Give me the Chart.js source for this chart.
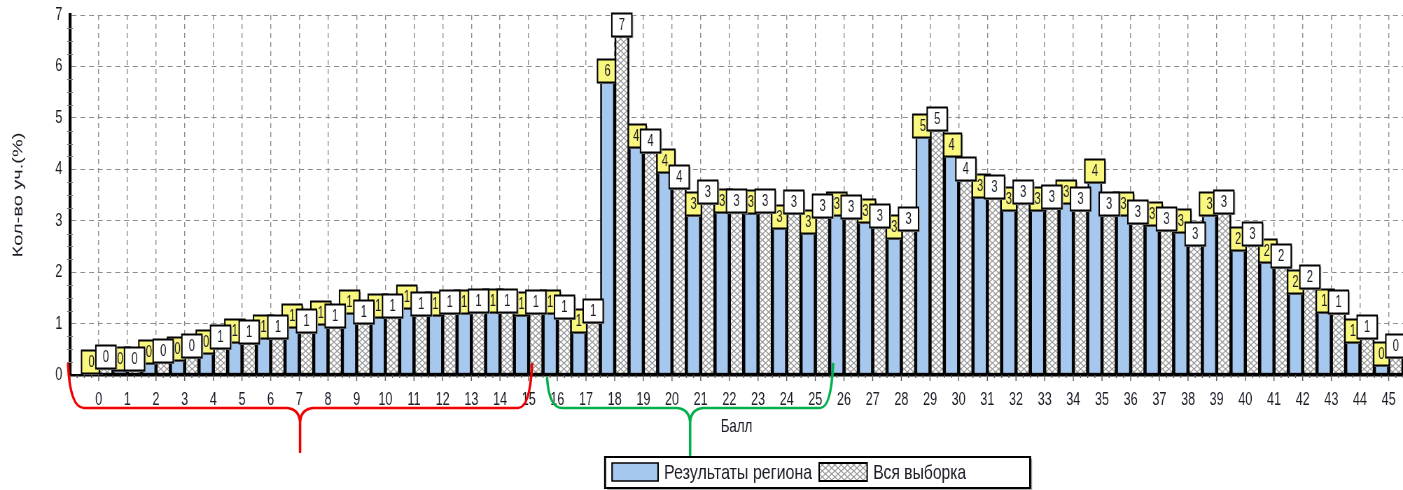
<!DOCTYPE html>
<html>
<head>
<meta charset="utf-8">
<script src="https://cdn.jsdelivr.net/npm/chart.js@4.4.1/dist/chart.umd.min.js"></script>
<style>
  html, body { margin: 0; padding: 0; background: #fff; overflow: hidden; }
  #chart { display: block; }
</style>
</head>
<body>
<!-- the original picture is horizontally condensed: draw wide, show narrow -->
<canvas id="chart" width="2004" height="490" style="width:1403px;height:490px"></canvas>
<script>
"use strict";

/* ── Data ─────────────────────────────────────────────── */
const SCORES = [0, 1, 2, 3, 4, 5, 6, 7, 8, 9, 10, 11, 12, 13, 14, 15, 16, 17, 18, 19, 20, 21, 22,
  23, 24, 25, 26, 27, 28, 29, 30, 31, 32, 33, 34, 35, 36, 37, 38, 39, 40, 41, 42, 43, 44, 45];

// "Результаты региона", % of participants
const REGION = [0.04, 0.10, 0.23, 0.29, 0.43, 0.65, 0.72, 0.94, 1.00, 1.20, 1.13, 1.30, 1.17,
  1.20, 1.23, 1.17, 1.20, 0.84, 5.70, 4.43, 3.95, 3.11, 3.17, 3.15, 2.86, 2.76, 3.11, 2.98,
  2.66, 4.63, 4.26, 3.46, 3.21, 3.21, 3.34, 3.75, 3.11, 2.92, 2.78, 3.11, 2.43, 2.20, 1.60,
  1.23, 0.65, 0.19];

// "Вся выборка", % of participants
const ALL = [0.14, 0.10, 0.25, 0.35, 0.52, 0.62, 0.72, 0.84, 0.93, 1.01, 1.13, 1.17, 1.20,
  1.23, 1.23, 1.20, 1.10, 1.03, 6.60, 4.34, 3.64, 3.34, 3.17, 3.17, 3.15, 3.07, 3.05, 2.88,
  2.82, 4.76, 3.79, 3.44, 3.34, 3.25, 3.21, 3.11, 2.96, 2.82, 2.52, 3.15, 2.53, 2.10, 1.69,
  1.20, 0.72, 0.35];

const Y_TICKS = [0, 1, 2, 3, 4, 5, 6, 7];

/* ── Styles ───────────────────────────────────────────── */
const SX = 0.7;   // horizontal squeeze of the displayed canvas
const FONT = '"Liberation Sans", Arial, sans-serif';
const BLUE = '#A6C8EE';
const YELLOW = '#FAF77E';
const TEXT = '#1c1c28';
const GRID = '#8c8c8c';

function hatchPattern() {
  const c = document.createElement('canvas');
  c.width = 9; c.height = 6;
  const g = c.getContext('2d');
  g.fillStyle = '#fff';
  g.fillRect(0, 0, 9, 6);
  g.strokeStyle = '#9a9a9a';
  g.lineWidth = 1.2;
  g.beginPath();
  g.moveTo(0, 0); g.lineTo(9, 6);
  g.moveTo(9, 0); g.lineTo(0, 6);
  g.stroke();
  return g.createPattern(c, 'repeat');
}
const HATCH = hatchPattern();

/** Draw text squeezed/stretched to a given width. */
function fitText(ctx, text, x, y, width, font) {
  ctx.font = font;
  const k = width / ctx.measureText(text).width;
  ctx.save();
  ctx.translate(x, y);
  ctx.scale(k, 1);
  ctx.fillText(text, 0, 0);
  ctx.restore();
}

/* ── Plugins ──────────────────────────────────────────── */
/** Value boxes above bars: yellow for region, white for the whole sample. */
const valueBoxes = {
  id: 'valueBoxes',
  afterDatasetsDraw(chart) {
    const ctx = chart.ctx;
    const w = 20 / SX, h = 23;
    const drawBoxes = (di, fill) => {
      const vals = chart.data.datasets[di].data;
      chart.getDatasetMeta(di).data.forEach((bar, i) => {
        const x = bar.x - w / 2;
        const y = Math.round(bar.y - h) + 0.5;
        ctx.fillStyle = '#a0a0a0';
        ctx.fillRect(x + 2, y + 1.5, w, h);
        ctx.fillStyle = fill;
        ctx.fillRect(x, y, w, h);
        ctx.strokeStyle = '#000';
        ctx.lineWidth = 2;
        ctx.strokeRect(x, y, w, h);
        ctx.fillStyle = TEXT;
        ctx.font = '16px ' + FONT;
        ctx.textAlign = 'center';
        ctx.textBaseline = 'middle';
        ctx.fillText(String(Math.round(vals[i])), x + w / 2, y + h / 2 + 1);
      });
    };
    ctx.save();
    drawBoxes(0, YELLOW);
    chart.getDatasetMeta(1).data.forEach(b => b.draw(ctx));
    drawBoxes(1, '#fff');
    ctx.restore();
  }
};

/** Tick marks, braces and the boxed legend. */
const decorations = {
  id: 'decorations',
  afterDraw(chart) {
    const { ctx } = chart;
    const xs = chart.scales.x, ys = chart.scales.y;
    const ds = chart.data.datasets;
    ctx.save();

    // tick marks on the x axis
    ctx.strokeStyle = '#555';
    ctx.lineWidth = 1.4;
    ctx.beginPath();
    for (let v = -1; v <= 45.5; v += 0.25) {
      const px = xs.getPixelForValue(v);
      const len = Number.isInteger(v) ? 6 : 3;
      ctx.moveTo(px, ys.bottom);
      ctx.lineTo(px, ys.bottom + len);
    }
    ctx.stroke();
    // minor marks on the y axis
    ctx.strokeStyle = '#777';
    ctx.lineWidth = 1;
    ctx.beginPath();
    for (let v = 0.25; v < 7; v += 0.25) {
      if (Number.isInteger(v)) continue;
      const py = Math.round(ys.getPixelForValue(v)) + 0.5;
      ctx.moveTo(xs.left - 4, py);
      ctx.lineTo(xs.left + 4, py);
    }
    ctx.stroke();

    // everything below is laid out in displayed (reference) pixels
    ctx.save();
    ctx.scale(1 / SX, 1);

    // red brace
    ctx.lineWidth = 2.5;
    ctx.lineCap = 'round';
    ctx.strokeStyle = '#F00000';
    ctx.beginPath();
    ctx.moveTo(68, 364);
    ctx.quadraticCurveTo(70, 408, 84, 408);
    ctx.lineTo(287, 408);
    ctx.quadraticCurveTo(299, 409, 300, 422);
    ctx.lineTo(300, 452);
    ctx.moveTo(300, 422);
    ctx.quadraticCurveTo(301, 409, 313, 408);
    ctx.lineTo(518, 408);
    ctx.quadraticCurveTo(530, 408, 532, 364);
    ctx.stroke();

    // green brace
    ctx.strokeStyle = '#00B04C';
    ctx.beginPath();
    ctx.moveTo(547, 378);
    ctx.quadraticCurveTo(549, 408, 562, 408);
    ctx.lineTo(677, 408);
    ctx.quadraticCurveTo(689, 409, 690, 422);
    ctx.lineTo(690, 455);
    ctx.moveTo(690, 422);
    ctx.quadraticCurveTo(691, 409, 703, 408);
    ctx.lineTo(820, 408);
    ctx.quadraticCurveTo(831, 408, 833, 364);
    ctx.stroke();

    // legend frame
    ctx.lineCap = 'butt';
    ctx.fillStyle = '#b0b0b0';
    ctx.fillRect(607, 459, 425, 31);
    ctx.fillStyle = '#fff';
    ctx.fillRect(605, 457, 425, 31);
    ctx.strokeStyle = '#000';
    ctx.lineWidth = 2;
    ctx.strokeRect(605, 457, 425, 31);
    ctx.lineWidth = 1.5;
    ctx.fillStyle = BLUE;
    ctx.fillRect(612, 463, 46, 18);
    ctx.strokeRect(612, 463, 46, 18);
    ctx.restore();

    // hatched swatch in canvas space so the pattern matches the bars
    ctx.fillStyle = HATCH;
    ctx.fillRect(819 / SX, 463, 48 / SX, 18);
    ctx.strokeStyle = '#000';
    ctx.lineWidth = 2;
    ctx.strokeRect(819 / SX, 463, 48 / SX, 18);

    ctx.fillStyle = TEXT;
    ctx.textAlign = 'left';
    ctx.textBaseline = 'middle';
    fitText(ctx, ds[0].label, 664 / SX, 473, 148 / SX, '21px ' + FONT);
    fitText(ctx, ds[1].label, 873 / SX, 473, 93 / SX, '21px ' + FONT);

    ctx.restore();
  }
};

/* ── Chart ────────────────────────────────────────────── */
const barStyle = {
  borderColor: '#000',
  borderWidth: { left: 2.6, right: 2.6, top: 2, bottom: 2 },
  borderSkipped: false,
  categoryPercentage: 1,
  barPercentage: 1,
};

new Chart(document.getElementById('chart'), {
  type: 'bar',
  data: {
    labels: SCORES,
    datasets: [
      { label: 'Результаты региона', data: REGION, backgroundColor: BLUE, ...barStyle },
      { label: 'Вся выборка', data: ALL, backgroundColor: HATCH, ...barStyle },
    ],
  },
  options: {
    responsive: false,
    animation: false,
    devicePixelRatio: 1,
    layout: { padding: { top: 15, left: 0, right: 0, bottom: 0 } },
    plugins: {
      legend: { display: false },
      tooltip: { enabled: false },
    },
    scales: {
      x: {
        type: 'linear',
        min: -1,
        max: 45.5,
        offset: false,
        afterFit: s => { s.height = 115; s.paddingLeft = 0; s.paddingRight = 0; },
        grid: {
          offset: false,
          drawTicks: false,
          color: c => (c.tick && Number.isInteger(c.tick.value) && c.tick.value >= 0) ? GRID : 'rgba(0,0,0,0)',
          lineWidth: 1.4,
        },
        border: { color: '#000', width: 2.5, dash: [5, 4] },
        ticks: {
          stepSize: 1,
          includeBounds: false,
          autoSkip: false,
          maxRotation: 0,
          padding: 14,
          color: TEXT,
          font: { family: FONT, size: 18 },
          callback: v => (v >= 0 && Number.isInteger(v)) ? String(v) : '',
        },
        title: {
          display: true,
          text: 'Балл',
          color: TEXT,
          font: { family: FONT, size: 19 },
          padding: { top: 0, bottom: 52 },
        },
      },
      y: {
        min: Y_TICKS[0],
        max: Y_TICKS[Y_TICKS.length - 1],
        afterFit: s => { s.width = 70 / SX; s.paddingTop = 0; s.paddingBottom = 0; },
        afterBuildTicks: s => { s.ticks = Y_TICKS.map(v => ({ value: v })); },
        grid: { drawTicks: false, color: GRID, lineWidth: 1 },
        border: { color: '#000', width: 4.2, dash: [7, 5.5] },
        ticks: {
          padding: 11,
          color: TEXT,
          font: { family: FONT, size: 18 },
        },
        title: {
          display: true,
          text: 'Кол-во уч.(%)',
          color: TEXT,
          font: { family: FONT, size: 20 },
          padding: { top: 14 },
        },
      },
    },
  },
  plugins: [valueBoxes, decorations],
});
</script>
</body>
</html>
